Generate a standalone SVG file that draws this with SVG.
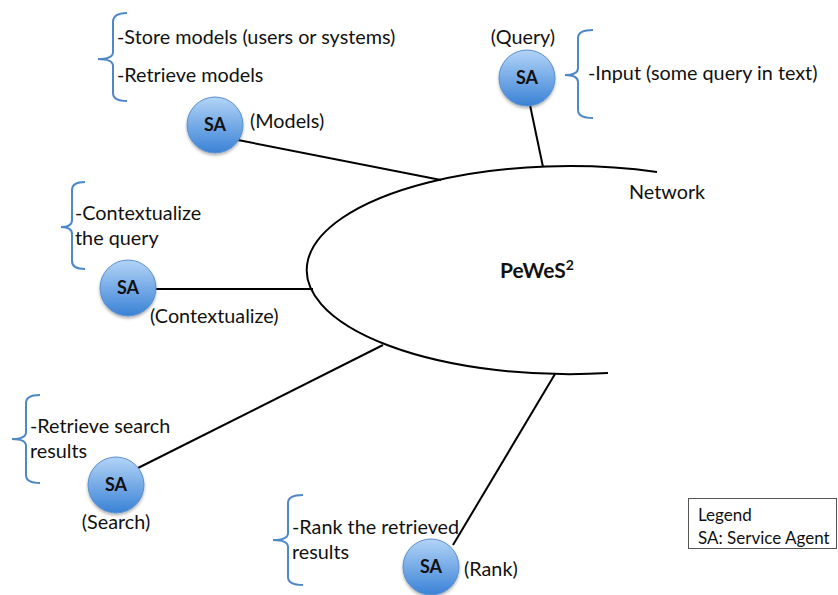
<svg xmlns="http://www.w3.org/2000/svg" width="838" height="595" viewBox="0 0 838 595">
<style>
.t{font-family:Lato,"Liberation Sans",sans-serif;font-size:19.8px;fill:#111}
.sa{font-family:Lato,"Liberation Sans",sans-serif;font-size:18px;font-weight:bold;fill:#111;text-anchor:middle}
.br{fill:none;stroke:#4f88c6;stroke-width:2}
.ln{fill:none;stroke:#000;stroke-width:2}
.c{fill:url(#g);stroke:#5a8fcf;stroke-width:1}
</style>
<defs>
<linearGradient id="g" x1="0" y1="0" x2="0" y2="1">
<stop offset="0" stop-color="#b3d4f7"/>
<stop offset="1" stop-color="#3a82d6"/>
</linearGradient>
<filter id="sh" x="-30%" y="-30%" width="160%" height="160%">
<feDropShadow dx="0" dy="2" stdDeviation="1.5" flood-color="#000" flood-opacity="0.3"/>
</filter>
</defs>
<rect width="838" height="595" fill="#fff"/>
<g id="connectors">
<line class="ln" x1="238" y1="140" x2="441" y2="180"/>
<line class="ln" x1="530" y1="105" x2="543" y2="167"/>
<line class="ln" x1="155" y1="289" x2="313" y2="289"/>
<line class="ln" x1="138" y1="468" x2="383" y2="345"/>
<line class="ln" x1="453" y1="545" x2="555" y2="374"/>
</g>
<g id="network">
<path class="ln" d="M 657 172 A 263 104 0 1 0 608 373"/>
<text class="t" x="629" y="199">Network</text>
<text x="500" y="278" style="font-family:Lato,'Liberation Sans',sans-serif;font-size:21px;font-weight:bold;fill:#111">PeWeS<tspan font-size="14" dy="-8">2</tspan></text>
</g>
<g id="models">
<path class="br" d="M127 13 Q113 13 113 22 L113 52 Q113 59 98 59 Q113 59 113 66 L113 93 Q113 101 127 101"/>
<text class="t" x="117" y="44">-Store models (users or systems)</text>
<text class="t" x="117" y="82">-Retrieve models</text>
<circle class="c" cx="215" cy="125" r="28" filter="url(#sh)"/>
<text class="sa" x="215" y="131">SA</text>
<text class="t" x="250" y="128">(Models)</text>
</g>
<g id="query">
<path class="br" d="M593 30 Q578 30 578 38 L578 68 Q578 75 565 75 Q578 75 578 82 L578 110 Q578 118 593 118"/>
<text class="t" x="588" y="80">-Input (some query in text)</text>
<text class="t" x="523" y="44" text-anchor="middle">(Query)</text>
<circle class="c" cx="527" cy="78" r="28" filter="url(#sh)"/>
<text class="sa" x="527" y="84">SA</text>
</g>
<g id="contextualize">
<path class="br" d="M85 182 Q72 182 72 190 L72 220 Q72 227 61 227 Q72 227 72 234 L72 261 Q72 269 85 269"/>
<text class="t" x="75" y="220">-Contextualize</text>
<text class="t" x="75" y="245">the query</text>
<circle class="c" cx="128" cy="288" r="28" filter="url(#sh)"/>
<text class="sa" x="128" y="294">SA</text>
<text class="t" x="150" y="323">(Contextualize)</text>
</g>
<g id="search">
<path class="br" d="M40 395 Q26 395 26 403 L26 432 Q26 439 12 439 Q26 439 26 446 L26 475 Q26 483 40 483"/>
<text class="t" x="30" y="433">-Retrieve search</text>
<text class="t" x="30" y="458">results</text>
<circle class="c" cx="116" cy="485" r="28" filter="url(#sh)"/>
<text class="sa" x="116" y="491">SA</text>
<text class="t" x="116" y="529" text-anchor="middle">(Search)</text>
</g>
<g id="rank">
<path class="br" d="M303 495 Q288 495 288 503 L288 533 Q288 540 273 540 Q288 540 288 547 L288 577 Q288 585 303 585"/>
<text class="t" x="292" y="534">-Rank the retrieved</text>
<text class="t" x="292" y="559">results</text>
<circle class="c" cx="431" cy="567" r="28" filter="url(#sh)"/>
<text class="sa" x="431" y="573">SA</text>
<text class="t" x="464" y="576">(Rank)</text>
</g>
<g id="legend">
<rect x="688.5" y="498.5" width="148" height="50" fill="#fff" stroke="#555" stroke-width="1"/>
<text class="t" x="698" y="521" style="font-size:17px">Legend</text>
<text class="t" x="698" y="544" style="font-size:17px">SA: Service Agent</text>
</g>
</svg>
